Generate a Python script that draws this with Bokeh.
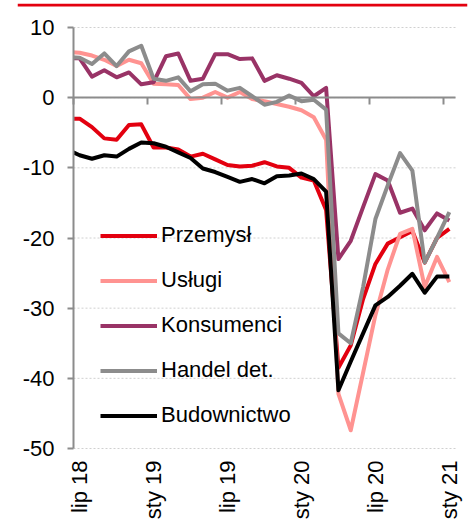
import math
import numpy as np
from bokeh.plotting import figure
from bokeh.models import (Range1d, FixedTicker, LinearAxis, Legend, LegendItem,
                          ColumnDataSource)
from bokeh.embed import file_html
from bokeh.resources import INLINE

months = ["cze 18", "lip 18", "sie 18", "wrz 18", "paź 18", "lis 18", "gru 18",
          "sty 19", "lut 19", "mar 19", "kwi 19", "maj 19", "cze 19", "lip 19", "sie 19",
          "wrz 19", "paź 19", "lis 19", "gru 19",
          "sty 20", "lut 20", "mar 20", "kwi 20", "maj 20", "cze 20", "lip 20", "sie 20",
          "wrz 20", "paź 20", "lis 20", "gru 20",
          "sty 21"]

przemysl = [-3.0, -3.0, -4.2, -5.8, -6.0, -3.9, -3.8, -7.1, -7.1, -7.4, -8.4, -8.0, -8.8, -9.6,
            -9.8, -9.7, -9.2, -9.8, -10.0, -11.4, -11.8, -16.0, -38.5, -35.3, -28.7, -23.7,
            -20.8, -19.9, -19.0, -23.5, -20.0, -18.7]
uslugi = [6.5, 6.4, 6.0, 5.4, 4.5, 5.4, 4.9, 2.0, 1.9, 1.8, -0.2, 0.0, 0.8, 0.0, 0.8, -0.2,
          -0.5, -0.9, -1.3, -1.8, -2.8, -6.0, -42.2, -47.4, -39.2, -31.0, -24.5, -19.4, -18.7,
          -27.0, -22.7, -26.3]
konsumenci = [5.6, 5.6, 3.0, 3.9, 2.9, 3.6, 1.9, 2.2, 5.9, 6.3, 2.4, 2.7, 6.2, 6.2, 5.5, 5.6,
              2.4, 3.2, 2.7, 2.1, 0.2, 1.4, -23.0, -20.4, -15.6, -10.9, -11.8, -16.4, -15.8,
              -18.9, -16.5, -17.5]
handel = [5.8, 5.7, 4.8, 6.3, 4.5, 6.6, 7.4, 2.7, 2.4, 2.9, 0.9, 1.9, 2.0, 1.0, 1.4, 0.2,
          -1.0, -0.6, 0.3, -0.5, -0.3, -1.7, -33.6, -35.0, -27.0, -17.3, -12.5, -7.9, -10.4,
          -23.5, -20.0, -16.3]
budownictwo = [-7.4, -8.2, -8.7, -8.2, -8.4, -7.3, -6.4, -6.5, -7.0, -7.8, -8.6, -10.1, -10.6,
               -11.3, -12.0, -11.6, -12.2, -11.2, -11.1, -10.8, -11.6, -13.4, -41.7, -37.6,
               -33.6, -29.6, -28.4, -26.8, -25.1, -27.8, -25.5, -25.5]

series_names = ["Przemysł", "Usługi", "Konsumenci", "Handel det.", "Budownictwo"]
series_values = [przemysl, uslugi, konsumenci, handel, budownictwo]
series_colors = ["#E3000F", "#FF9391", "#993366", "#8C8C8C", "#000000"]

tick_labels = ["lip 18", "sty 19", "lip 19", "sty 20", "lip 20", "sty 21"]
y_ticks = [-50, -40, -30, -20, -10, 0, 10]
y_tick_labels = ["-50", "-40", "-30", "-20", "-10", "0", "10"]

# month k sits at the centre of its category (first visible month Jul 2018 spans 0..1)
x = np.arange(len(months)) - 0.5
label_pos = [float(months.index(t)) - 0.5 for t in tick_labels]
boundary_pos = [lp - 0.5 for lp in label_pos]

FONT = "Liberation Sans"
AXIS_GRAY = "#8C8C8C"
RED = "#E3000F"

W, H = 474, 522
# chart area (pixels) and the wider drawing area that also holds the rule and labels
PLOT_L, PLOT_R, PLOT_T, PLOT_B = 73, 455, 27, 448
AREA_L, AREA_R, AREA_T, AREA_B = 17, 467, 3, 522
X0, X1, Y0, Y1 = 0, 31, -50, 10
ppx = (PLOT_R - PLOT_L) / (X1 - X0)
ppy = (PLOT_B - PLOT_T) / (Y1 - Y0)
xr = Range1d(X0 - (PLOT_L - AREA_L) / ppx, X1 + (AREA_R - PLOT_R) / ppx)
yr = Range1d(Y0 - (AREA_B - PLOT_B) / ppy, Y1 + (PLOT_T - AREA_T) / ppy)

p = figure(width=W, height=H, output_backend="svg", toolbar_location=None,
           x_range=xr, y_range=yr,
           min_border_left=AREA_L, min_border_right=W - AREA_R,
           min_border_top=AREA_T, min_border_bottom=H - AREA_B)
p.outline_line_color = None
p.background_fill_color = "white"
p.border_fill_color = "white"
p.xgrid.visible = False
p.ygrid.visible = False

# y axis drawn at x = 0 inside the drawing area
ya = p.yaxis[0]
ya.fixed_location = X0
ya.bounds = (Y0, Y1)
ya.ticker = FixedTicker(ticks=y_ticks)
ya.major_label_overrides = {t: s for t, s in zip(y_ticks, y_tick_labels)}
ya.axis_line_color = AXIS_GRAY
ya.axis_line_width = 2
ya.major_tick_line_color = AXIS_GRAY
ya.major_tick_line_width = 2
ya.major_tick_out = 6
ya.major_tick_in = 0
ya.minor_tick_line_color = None
ya.major_label_standoff = 13
ya.major_label_text_font = FONT
ya.major_label_text_font_size = "22px"
ya.major_label_text_color = "#000000"

# x label axis at y = -50 (labels only)
xa = p.xaxis[0]
xa.fixed_location = Y0
xa.bounds = (X0, X1)
xa.ticker = FixedTicker(ticks=label_pos)
xa.major_label_overrides = {lp: t for lp, t in zip(label_pos, tick_labels)}
xa.major_label_orientation = math.pi / 2
xa.axis_line_color = None
xa.major_tick_line_color = None
xa.major_tick_out = 0
xa.major_tick_in = 0
xa.minor_tick_line_color = None
xa.major_label_standoff = 12
xa.major_label_text_font = FONT
xa.major_label_text_font_size = "22px"
xa.major_label_text_color = "#000000"

# zero axis line with tick marks (minor ticks only, so no labels are drawn)
zero_axis = LinearAxis(fixed_location=0, bounds=(X0, X1),
                       ticker=FixedTicker(ticks=[], minor_ticks=boundary_pos),
                       axis_line_color=AXIS_GRAY, axis_line_width=2,
                       major_tick_line_color=None, major_tick_out=0, major_tick_in=0,
                       minor_tick_line_color=AXIS_GRAY, minor_tick_line_width=2,
                       minor_tick_out=7, minor_tick_in=0,
                       major_label_standoff=0)
p.add_layout(zero_axis, "below")

# dotted horizontal gridlines over the chart area only
grid_src = ColumnDataSource(dict(x0=[X0] * len(y_ticks), x1=[X1] * len(y_ticks), y=y_ticks))
p.segment(x0="x0", x1="x1", y0="y", y1="y", source=grid_src,
          line_color="#D0D0D0", line_dash="2 2", line_width=1)

items = []
for name, vals, col in zip(series_names, series_values, series_colors):
    src = ColumnDataSource(dict(x=x, y=vals))
    r = p.line("x", "y", source=src, line_color=col, line_width=4, line_join="round")
    items.append(LegendItem(label=name, renderers=[r]))

# mask left of the y axis, so series start at the axis as in the original
p.quad(left=[xr.start], right=[X0], bottom=[Y0], top=[Y1], fill_color="white", line_color=None)

# decorative red rule across the top
rule_y = Y1 + (PLOT_T - (AREA_T + 1.5)) / ppy
p.segment(x0=[xr.start], x1=[xr.end], y0=[rule_y], y1=[rule_y],
          line_color=RED, line_width=3, line_cap="butt")

legend = Legend(items=items, location=(100 - AREA_L, 20 + (AREA_B - PLOT_B)), padding=0, margin=0,
                glyph_width=57, glyph_height=25, label_height=25, label_standoff=4,
                spacing=19, border_line_color=None, background_fill_alpha=0,
                label_text_font=FONT, label_text_font_size="22px", label_text_color="#000000")
p.add_layout(legend, "center")

open("out.html", "w").write(file_html(p, INLINE))
